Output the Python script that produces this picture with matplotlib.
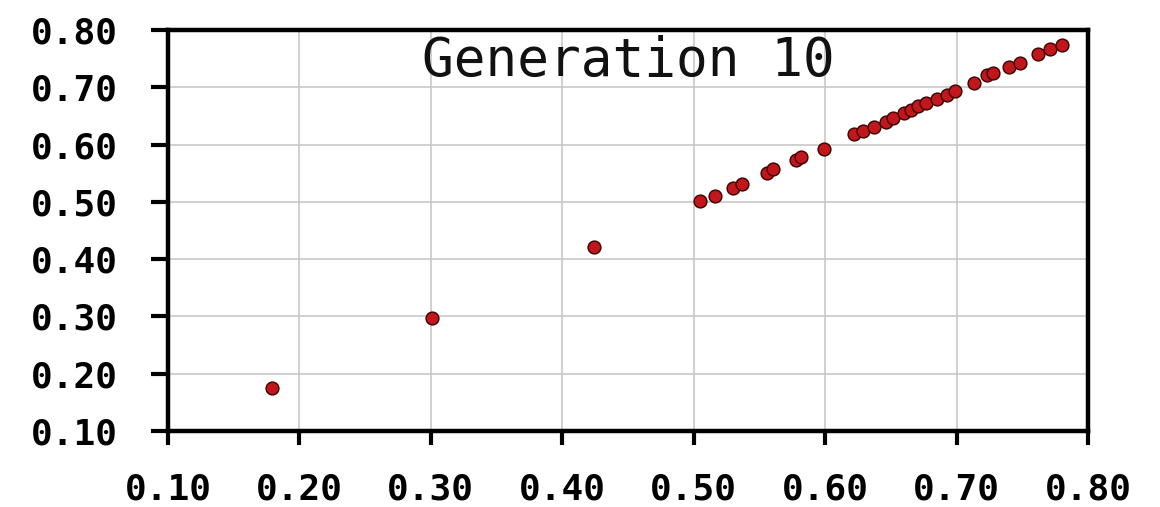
import numpy as np
import matplotlib
matplotlib.use('Agg')
import matplotlib.pyplot as plt

# ===== 数据=====
x_vals = [0.179, 0.301, 0.424,
          0.505, 0.516, 0.530, 0.537, 0.556, 0.560, 0.578, 0.582, 0.599,
          0.622, 0.629, 0.637, 0.646, 0.652, 0.660, 0.665, 0.671, 0.677,
          0.685, 0.693, 0.699, 0.713, 0.723, 0.728, 0.740, 0.748, 0.762,
          0.771, 0.780]
y_vals = [0.175, 0.297, 0.422,
          0.502, 0.511, 0.525, 0.532, 0.550, 0.557, 0.573, 0.578, 0.593,
          0.618, 0.624, 0.631, 0.640, 0.646, 0.655, 0.660, 0.667, 0.673,
          0.679, 0.686, 0.694, 0.707, 0.721, 0.725, 0.735, 0.743, 0.758,
          0.766, 0.774]
ticks = [0.10, 0.20, 0.30, 0.40, 0.50, 0.60, 0.70, 0.80]
title_text = 'Generation 10'

MONO = 'DejaVu Sans Mono'

fig = plt.figure(figsize=(11.6, 5.07), dpi=100)
ax = fig.add_axes([0.1448, 0.1499, 0.7931, 0.7909])

ax.scatter(x_vals, y_vals, s=85, color='#c0161c', edgecolors='#3a0000',
           linewidths=1.0, zorder=3, clip_on=False)

ax.set_xlim(0.10, 0.80)
ax.set_ylim(0.10, 0.80)
ax.set_xticks(ticks)
ax.set_yticks(ticks)
ax.set_xticklabels([f'{t:.2f}' for t in ticks])
ax.set_yticklabels([f'{t:.2f}' for t in ticks])

ax.grid(True, color='#c8c8c8', linewidth=1.2, zorder=0)
ax.set_axisbelow(True)

for sp in ax.spines.values():
    sp.set_linewidth(3.2)
    sp.set_color('black')

ax.tick_params(axis='x', direction='out', length=10, width=3.0, pad=20,
               labelsize=26)
ax.tick_params(axis='y', direction='out', length=12, width=3.0, pad=24,
               labelsize=26)
for lab in ax.get_xticklabels() + ax.get_yticklabels():
    lab.set_fontfamily(MONO)
    lab.set_fontweight('bold')

ax.text(0.5, 0.922, title_text, transform=ax.transAxes, ha='center',
        va='center', fontsize=38, family=MONO, color='#111111')

fig.savefig('out.png', dpi=100, facecolor='white')
